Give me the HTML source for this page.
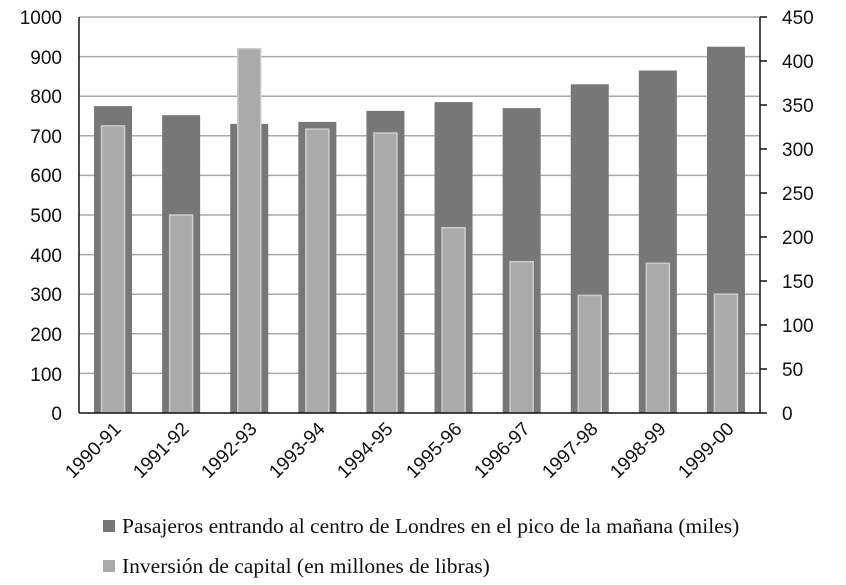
<!DOCTYPE html>
<html><head><style>body{margin:0;background:#fff}</style></head><body>
<svg width="846" height="580" xmlns="http://www.w3.org/2000/svg" font-family="Liberation Sans, sans-serif">
<rect width="846" height="580" fill="#fff"/>
<g stroke="#aaa" stroke-width="1.5">
<line x1="79" x2="760" y1="17" y2="17"/><line x1="79" x2="760" y1="56.6" y2="56.6"/><line x1="79" x2="760" y1="96.2" y2="96.2"/><line x1="79" x2="760" y1="135.8" y2="135.8"/><line x1="79" x2="760" y1="175.4" y2="175.4"/><line x1="79" x2="760" y1="215" y2="215"/><line x1="79" x2="760" y1="254.6" y2="254.6"/><line x1="79" x2="760" y1="294.2" y2="294.2"/><line x1="79" x2="760" y1="333.8" y2="333.8"/><line x1="79" x2="760" y1="373.4" y2="373.4"/>
</g>
<g fill="#777">
<rect x="94.05" y="106.1" width="38" height="306.9"/>
<rect x="162.15" y="115.2" width="38" height="297.8"/>
<rect x="230.25" y="123.9" width="38" height="289.1"/>
<rect x="298.35" y="121.9" width="38" height="291.1"/>
<rect x="366.45" y="110.9" width="38" height="302.1"/>
<rect x="434.55" y="102.1" width="38" height="310.9"/>
<rect x="502.65" y="108.1" width="38" height="304.9"/>
<rect x="570.75" y="84.3" width="38" height="328.7"/>
<rect x="638.85" y="70.5" width="38" height="342.5"/>
<rect x="706.95" y="46.7" width="38" height="366.3"/>
</g>
<g fill="#aaa" stroke="#ccc" stroke-width="1.5">
<rect x="101.55" y="125.9" width="23" height="287.1"/>
<rect x="169.65" y="215" width="23" height="198"/>
<rect x="237.75" y="48.7" width="23" height="364.3"/>
<rect x="305.85" y="129.1" width="23" height="283.9"/>
<rect x="373.95" y="133" width="23" height="280"/>
<rect x="442.05" y="227.7" width="23" height="185.3"/>
<rect x="510.15" y="261.7" width="23" height="151.3"/>
<rect x="578.25" y="295.4" width="23" height="117.6"/>
<rect x="646.35" y="263.3" width="23" height="149.7"/>
<rect x="714.45" y="294.2" width="23" height="118.8"/>
</g>
<g stroke="#111" stroke-width="1.5">
<line x1="79" x2="79" y1="17" y2="413"/><line x1="760" x2="760" y1="17" y2="413"/><line x1="79" x2="760" y1="413" y2="413"/>
<line x1="760" x2="767" y1="17" y2="17"/><line x1="760" x2="767" y1="61" y2="61"/><line x1="760" x2="767" y1="105" y2="105"/><line x1="760" x2="767" y1="149" y2="149"/><line x1="760" x2="767" y1="193" y2="193"/><line x1="760" x2="767" y1="237" y2="237"/><line x1="760" x2="767" y1="281" y2="281"/><line x1="760" x2="767" y1="325" y2="325"/><line x1="760" x2="767" y1="369" y2="369"/><line x1="760" x2="767" y1="413" y2="413"/>
</g>
<g font-size="19" fill="#111" text-anchor="end">
<text x="62" y="24">1000</text><text x="62" y="64">900</text><text x="62" y="103">800</text><text x="62" y="143">700</text><text x="62" y="182">600</text><text x="62" y="222">500</text><text x="62" y="262">400</text><text x="62" y="301">300</text><text x="62" y="341">200</text><text x="62" y="381">100</text><text x="62" y="420">0</text>
</g>
<g font-size="19" fill="#111">
<text x="782" y="24">450</text><text x="782" y="68">400</text><text x="782" y="112">350</text><text x="782" y="156">300</text><text x="782" y="200">250</text><text x="782" y="244">200</text><text x="782" y="288">150</text><text x="782" y="332">100</text><text x="782" y="376">50</text><text x="782" y="420">0</text>
</g>
<g font-size="19" fill="#111" text-anchor="end">
<text transform="translate(122,430) rotate(-45)">1990-91</text>
<text transform="translate(190,430) rotate(-45)">1991-92</text>
<text transform="translate(258,430) rotate(-45)">1992-93</text>
<text transform="translate(326,430) rotate(-45)">1993-94</text>
<text transform="translate(394,430) rotate(-45)">1994-95</text>
<text transform="translate(463,430) rotate(-45)">1995-96</text>
<text transform="translate(531,430) rotate(-45)">1996-97</text>
<text transform="translate(599,430) rotate(-45)">1997-98</text>
<text transform="translate(667,430) rotate(-45)">1998-99</text>
<text transform="translate(735,430) rotate(-45)">1999-00</text>
</g>
<rect x="103" y="520" width="12" height="12" fill="#777"/>
<rect x="103" y="560" width="12" height="12" fill="#aaa"/>
<g font-family="Liberation Serif, serif" font-size="21.5" fill="#111">
<text x="122" y="533">Pasajeros entrando al centro de Londres en el pico de la mañana (miles)</text>
<text x="122" y="573">Inversión de capital (en millones de libras)</text>
</g>
</svg>
</body></html>
